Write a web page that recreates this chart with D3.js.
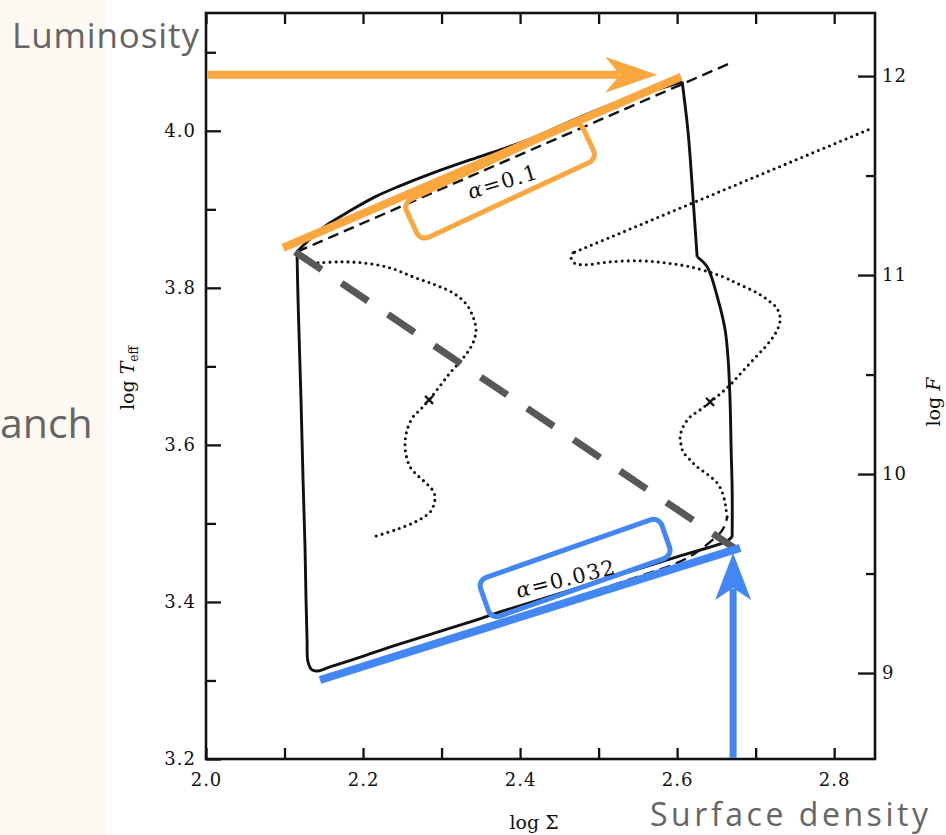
<!DOCTYPE html>
<html lang="en">
<head>
  <meta charset="UTF-8" />
  <title>Thermal limit cycle: log Teff vs log Sigma</title>
  <script src="https://d3js.org/d3.v7.min.js"></script>
  <style>
    body { margin: 0; background: #fff; }
    svg { display: block; }
    .tick text { font-family: 'DejaVu Serif', serif; font-size: 18px; fill: #111; letter-spacing: 1px; }
    .axis-title { font-family: 'DejaVu Serif', serif; font-size: 19px; fill: #111; }
    .note { font-family: 'Open Sans', sans-serif; fill: #656565; }
    .alpha { font-family: 'DejaVu Serif', serif; font-size: 21px; fill: #111; letter-spacing: 1.5px; }
  </style>
</head>
<body>
<div id="chart"></div>
<script>
// ---- ticks ----
const sigmaTicks = [2.0, 2.1, 2.2, 2.3, 2.4, 2.5, 2.6, 2.7, 2.8];
const teffMajor = [3.2, 3.4, 3.6, 3.8, 4.0];
const teffMinor = [3.3, 3.5, 3.7, 3.9, 4.1];
const fluxMajor = [9, 10, 11, 12];
const fluxMinor = [9.5, 10.5, 11.5];

// ---- curves, [log Sigma, log Teff] ----
// limit cycle (solid), split at its corners
const cycleUpper = [[2.1159,3.8459],[2.1261,3.8561],[2.1427,3.8713],[2.1580,3.8828],[2.1834,3.8981],
  [2.2153,3.9159],[2.2471,3.9299],[2.2892,3.9465],[2.3325,3.9618],[2.3745,3.9756],[2.4166,3.9911],
  [2.4599,4.0102],[2.5019,4.0280],[2.5529,4.0459],[2.6064,4.0624]];
const cycleRight = [[2.6064,4.0624],[2.6140,3.9975],[2.6204,3.9121],[2.6255,3.8395]];
const cycleRightLow = [[2.6255,3.8395],[2.6382,3.8268],[2.6522,3.7847],[2.6611,3.7465],[2.6650,3.7083],
  [2.6675,3.6535],[2.6688,3.5936],[2.6701,3.5427],[2.6701,3.4828]];
const cycleLower = [[2.6701,3.4828],[2.6637,3.4777],[2.6510,3.4726],[2.6038,3.4586],[2.5019,3.4267],
  [2.3745,3.3873],[2.3325,3.3732],[2.2471,3.3465],[2.2051,3.3325],[2.1580,3.3172],[2.1427,3.3121],
  [2.1350,3.3134],[2.1299,3.3236],[2.1287,3.3516],[2.1274,3.4025],[2.1261,3.4701],[2.1236,3.5554],
  [2.1210,3.6573],[2.1172,3.7847],[2.1159,3.8459]];

// equilibrium branches (dashed)
const upperEquilibrium = [[2.1159,3.8459],[2.6688,4.0866]];
const lowerEquilibrium = [[2.1452,3.3019],[2.3745,3.3745],[2.5529,3.4331],[2.6000,3.4497],
  [2.6255,3.4637],[2.6420,3.4764],[2.6548,3.4879],[2.6611,3.4981],[2.6637,3.5083]];

// local S-curves (dotted)
const sCurveInner = [[2.1427,3.8318],[2.1707,3.8331],[2.2000,3.8318],[2.2344,3.8255],[2.2637,3.8140],
  [2.2917,3.8038],[2.3146,3.7936],[2.3312,3.7796],[2.3401,3.7631],[2.3439,3.7465],[2.3401,3.7299],
  [2.3325,3.7172],[2.3223,3.7045],[2.3108,3.6917],[2.2981,3.6752],[2.2841,3.6573],[2.2726,3.6446],
  [2.2637,3.6357],[2.2561,3.6191],[2.2535,3.6025],[2.2548,3.5873],[2.2599,3.5720],[2.2701,3.5605],
  [2.2815,3.5503],[2.2892,3.5414],[2.2917,3.5338],[2.2904,3.5248],[2.2866,3.5159],[2.2777,3.5083],
  [2.2637,3.5006],[2.2408,3.4917],[2.2127,3.4828]];
const sCurveOuterLine = [[2.8433,4.0013],[2.4675,3.8446]];
const sCurveOuter = [[2.4675,3.8446],[2.4650,3.8382],[2.4688,3.8318],[2.4803,3.8293],[2.5146,3.8331],
  [2.5529,3.8344],[2.5847,3.8318],[2.6166,3.8268],[2.6586,3.8140],[2.6803,3.8038],[2.7019,3.7936],
  [2.7185,3.7822],[2.7268,3.7745],[2.7312,3.7618],[2.7287,3.7490],[2.7223,3.7376],[2.7121,3.7248],
  [2.6968,3.7083],[2.6815,3.6917],[2.6675,3.6764],[2.6548,3.6650],[2.6420,3.6548],[2.6293,3.6446],
  [2.6166,3.6357],[2.6076,3.6229],[2.6038,3.6102],[2.6051,3.6000],[2.6076,3.5911],[2.6166,3.5809],
  [2.6255,3.5720],[2.6395,3.5618],[2.6510,3.5516],[2.6573,3.5401],[2.6611,3.5261],[2.6624,3.5172],
  [2.6637,3.5083]];
const crossMarks = [[2.2841,3.6573],[2.6420,3.6548]];

// ---- overlay annotations ----
const orangeFit = [[2.0981,3.8510],[2.6051,4.0688]];
const blueFit = [[2.1452,3.3006],[2.6803,3.4688]];
const greyJump = [[2.1134,3.8459],[2.6764,3.4662]];
const luminosityArrow = [[2.0013,4.0713],[2.5745,4.0713]];
const densityArrow = [[2.6713,3.2013],[2.6713,3.4624]];
const alphaLabels = [
  {value: "0.1",   box: [2.3745,3.9363], text: [2.3783,3.9350], color: "#fba73f"},
  {value: "0.032", box: [2.4701,3.4433], text: [2.4586,3.4293], color: "#4287f5"}
];

const W = 946, H = 835;
const frame = {left: 206, right: 875, top: 13, bottom: 759};

const x = d3.scaleLinear().domain([2.0, 2.852]).range([frame.left, frame.right]);
const y = d3.scaleLinear().domain([3.2, 4.15]).range([frame.bottom, frame.top]);
const yF = d3.scaleLinear().domain([8.568, 12.317]).range([frame.bottom, frame.top]);

const svg = d3.select("#chart").append("svg").attr("width", W).attr("height", H);

// pale strip on the left
svg.append("rect").attr("x", 0).attr("y", 0).attr("width", 105).attr("height", H).attr("fill", "#fefaf3");

const fmt = d3.format(".1f");
const isMajor = d => Math.round(d * 10) % 2 === 0;

// axes
const gx = svg.append("g").attr("transform", `translate(0,${frame.bottom})`)
  .call(d3.axisBottom(x).tickValues(sigmaTicks).tickSize(-11).tickPadding(14)
    .tickFormat(d => isMajor(d) ? fmt(d) : ""));
const gxTop = svg.append("g").attr("transform", `translate(0,${frame.top})`)
  .call(d3.axisTop(x).tickValues(sigmaTicks).tickSize(-11).tickFormat(""));
const gy = svg.append("g").attr("transform", `translate(${frame.left},0)`)
  .call(d3.axisLeft(y).tickValues(teffMajor).tickSize(-15).tickPadding(10).tickFormat(fmt));
const gyMinor = svg.append("g").attr("transform", `translate(${frame.left},0)`)
  .call(d3.axisLeft(y).tickValues(teffMinor).tickSize(-10).tickFormat(""));
const gf = svg.append("g").attr("transform", `translate(${frame.right},0)`)
  .call(d3.axisRight(yF).tickValues(fluxMajor).tickSize(-17).tickPadding(7).tickFormat(d3.format("d")));
const gfMinor = svg.append("g").attr("transform", `translate(${frame.right},0)`)
  .call(d3.axisRight(yF).tickValues(fluxMinor).tickSize(-9).tickFormat(""));

[gx, gxTop, gy, gyMinor, gf, gfMinor].forEach(g => {
  g.select(".domain").remove();
  g.selectAll(".tick line").attr("stroke", "#111").attr("stroke-width", 2.3);
});

svg.append("rect")
  .attr("x", frame.left).attr("y", frame.top)
  .attr("width", frame.right - frame.left).attr("height", frame.bottom - frame.top)
  .attr("fill", "none").attr("stroke", "#111").attr("stroke-width", 2.6);

// axis titles
const tTitle = svg.append("text").attr("class", "axis-title")
  .attr("transform", "translate(134,378) rotate(-90)").attr("text-anchor", "middle");
tTitle.append("tspan").text("log ");
tTitle.append("tspan").attr("font-style", "italic").text("T");
tTitle.append("tspan").attr("font-size", 12).attr("dy", 4).text("eff");

const fTitle = svg.append("text").attr("class", "axis-title")
  .attr("transform", "translate(940,402) rotate(-90)").attr("text-anchor", "middle");
fTitle.append("tspan").text("log ");
fTitle.append("tspan").attr("font-style", "italic").text("F");

svg.append("text").attr("class", "axis-title")
  .attr("x", 534).attr("y", 829).attr("text-anchor", "middle").text("log Σ");

// curves
const smooth = d3.line().x(d => x(d[0])).y(d => y(d[1])).curve(d3.curveCatmullRom.alpha(0.5));
const straight = d3.line().x(d => x(d[0])).y(d => y(d[1]));

const curves = svg.append("g").attr("fill", "none").attr("stroke", "#111");

[cycleUpper, cycleRight, cycleRightLow, cycleLower].forEach(seg => {
  curves.append("path").attr("d", smooth(seg)).attr("stroke-width", 2.9).attr("stroke-linejoin", "round");
});

curves.append("path").attr("d", straight(upperEquilibrium))
  .attr("stroke-width", 2.4).attr("stroke-dasharray", "11,6");
curves.append("path").attr("d", smooth(lowerEquilibrium))
  .attr("stroke-width", 2.4).attr("stroke-dasharray", "11,6");

[smooth(sCurveInner), straight(sCurveOuterLine), smooth(sCurveOuter)].forEach(d => {
  curves.append("path").attr("d", d)
    .attr("stroke-width", 3.1).attr("stroke-linecap", "round").attr("stroke-dasharray", "0,6");
});

crossMarks.forEach(c => {
  const cx = x(c[0]), cy = y(c[1]);
  curves.append("path").attr("d", `M${cx-4},${cy-4}L${cx+4},${cy+4}M${cx-4},${cy+4}L${cx+4},${cy-4}`)
    .attr("stroke-width", 2.2);
});

// overlays
const orange = "#fba73f", blue = "#4287f5";

svg.append("path").attr("d", straight(greyJump)).attr("fill", "none")
  .attr("stroke", "#585858").attr("stroke-width", 7).attr("stroke-dasharray", "32,24");

svg.append("path").attr("d", straight(orangeFit)).attr("fill", "none")
  .attr("stroke", orange).attr("stroke-width", 8);
svg.append("path").attr("d", straight(blueFit)).attr("fill", "none")
  .attr("stroke", blue).attr("stroke-width", 8);

// luminosity arrow (points right)
{
  const x0 = x(luminosityArrow[0][0]), tx = x(luminosityArrow[1][0]), ty = y(luminosityArrow[1][1]);
  svg.append("line").attr("x1", x0).attr("y1", ty).attr("x2", tx - 38).attr("y2", ty)
    .attr("stroke", orange).attr("stroke-width", 8);
  svg.append("path").attr("transform", `translate(${tx},${ty})`)
    .attr("d", "M0,0L-52,-18L-37,0L-52,18Z").attr("fill", orange);
}
// surface density arrow (points up)
{
  const tx = x(densityArrow[1][0]), y0 = y(densityArrow[0][1]), ty = y(densityArrow[1][1]);
  svg.append("line").attr("x1", tx).attr("y1", y0).attr("x2", tx).attr("y2", ty + 36)
    .attr("stroke", blue).attr("stroke-width", 7);
  svg.append("path").attr("transform", `translate(${tx},${ty})`)
    .attr("d", "M0,0L-18,47L0,35L18,47Z").attr("fill", blue);
}

// alpha boxes + labels
const boxGeom = [{w: 195, h: 42, angle: -25, textAngle: -17}, {w: 192, h: 41, angle: -19.3, textAngle: -14}];
alphaLabels.forEach((a, i) => {
  const g = boxGeom[i];
  svg.append("rect")
    .attr("transform", `translate(${x(a.box[0])},${y(a.box[1])}) rotate(${g.angle})`)
    .attr("x", -g.w / 2).attr("y", -g.h / 2).attr("width", g.w).attr("height", g.h).attr("rx", 9)
    .attr("fill", "none").attr("stroke", a.color).attr("stroke-width", 5);
  const t = svg.append("text").attr("class", "alpha")
    .attr("transform", `translate(${x(a.text[0])},${y(a.text[1])}) rotate(${g.textAngle})`)
    .attr("text-anchor", "middle").attr("dominant-baseline", "central");
  t.append("tspan").attr("font-style", "italic").text("α");
  t.append("tspan").text("=" + a.value);
});

// notes
svg.append("text").attr("class", "note").attr("x", 12).attr("y", 48)
  .attr("font-size", 35).attr("textLength", 187).attr("lengthAdjust", "spacing").text("Luminosity");
svg.append("text").attr("class", "note").attr("x", 0).attr("y", 438)
  .attr("font-size", 41).text("anch");
svg.append("text").attr("class", "note").attr("x", 650).attr("y", 826)
  .attr("font-size", 32).attr("textLength", 278).attr("lengthAdjust", "spacing").text("Surface density");
</script>
</body>
</html>
